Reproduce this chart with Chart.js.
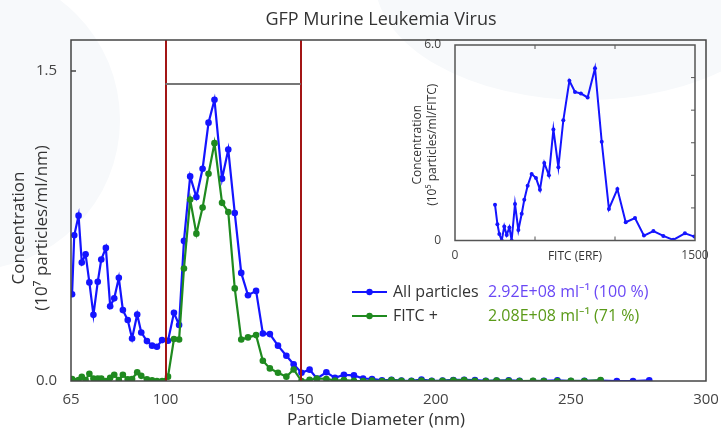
<!DOCTYPE html>
<html>
<head>
<meta charset="utf-8">
<script src="https://cdn.jsdelivr.net/npm/chart.js@4.4.1/dist/chart.umd.min.js"></script>
<style>
  html, body { margin: 0; padding: 0; background: #ffffff; }
  #wrap { position: relative; width: 721px; height: 432px; overflow: hidden; }
  #main { position: absolute; left: 0; top: 0; }
  #inset { position: absolute; left: 395px; top: 30px; }
</style>
</head>
<body>
<div id="wrap">
  <canvas id="main" width="721" height="432"></canvas>
  <canvas id="inset" width="320" height="240"></canvas>
</div>
<script>
// particle size bins (nm)
const sizeNm = [65.4, 66.2, 67.8, 69.0, 70.4, 71.8, 73.3, 74.9, 76.2, 77.9, 79.5, 81.0, 82.7, 84.2, 86.0, 87.6,
    89.5, 91.0, 93.1, 95.0, 96.8, 98.7, 100.9, 103.1, 105.0, 106.8, 109.1, 111.4, 113.7, 115.9, 118.1, 120.9,
    123.2, 125.6, 128.0, 130.5, 133.5, 136.0, 138.6, 141.6, 144.7, 147.4, 150.3, 153.3, 156.0, 159.5, 162.7,
    166.0, 169.7, 173.1, 176.4, 180.1, 183.6, 187.3, 191.0, 194.7, 198.5, 202.5, 206.5, 210.5, 214.5, 218.5,
    222.5, 227, 231, 236, 240, 245, 250, 255, 261, 267, 273, 279];

// concentration, 10^7 particles/ml/nm
const allParticles = [0.42, 0.705, 0.80, 0.573, 0.613, 0.477, 0.32, 0.48, 0.588, 0.644, 0.362, 0.40, 0.499, 0.343,
    0.295, 0.206, 0.322, 0.235, 0.193, 0.171, 0.166, 0.198, 0.195, 0.33, 0.271, 0.678, 0.99, 0.89, 1.027, 1.25,
    1.361, 0.979, 1.12, 0.813, 0.523, 0.415, 0.436, 0.23, 0.227, 0.171, 0.122, 0.081, 0.04, 0.055, 0.012, 0.042,
    0.015, 0.03, 0.027, 0.012, 0.01, 0.003, 0.006, 0.002, 0.001, 0.007, 0.001, 0.002, 0.005, 0.006, 0.004, 0.001,
    0.002, 0.003, 0.001, 0.0, 0.001, 0.003, 0.0, 0.001, 0.002, 0.0, 0.0, 0.003];

const fitcPositive = [0.01, 0.0, 0.005, 0.02, 0.005, 0.035, 0.012, 0.012, 0.012, 0.0, 0.015, 0.03, 0.005, 0.03,
    0.008, 0.01, 0.042, 0.025, 0.008, 0.003, 0.0, 0.0, 0.021, 0.203, 0.201, 0.544, 0.878, 0.713, 0.839, 1.003,
    1.151, 0.862, 0.818, 0.448, 0.201, 0.211, 0.222, 0.098, 0.061, 0.04, 0.021, 0.056, 0.0, 0.006, 0.012, 0.01,
    0.002, 0.004, 0.001, 0.0, 0.002, 0.0, 0.004, 0.001, 0.0, 0.002, 0.0, 0.001, 0.003, 0.004, 0.001, 0.0,
    0.002, 0.001, 0.0, 0.001, 0.0, 0.0, 0.001, 0.0, 0.004];

const sizeTicks = [65, 100, 150, 200, 250, 300];
const concTicks = [0, 1.5];
const gateNm = [100, 150];
const gateLevel = 1.435;

// inset: FITC intensity distribution
const fitcErf = [250, 265, 277, 292, 308, 323, 340, 354, 375, 396, 417, 433, 454, 479, 506, 531, 558, 587, 615,
    646, 677, 715, 750, 787, 829, 875, 917, 962, 1015, 1067, 1125, 1181, 1240, 1302, 1364, 1437, 1496];
const fitcConc = [1.10, 0.50, 0.20, 0.0, 0.43, 0.17, 0.40, 0.0, 1.12, 0.32, 0.82, 1.25, 1.68, 2.04, 1.92, 1.56,
    2.38, 2.00, 3.41, 2.25, 3.69, 4.90, 4.56, 4.51, 4.39, 5.29, 3.03, 0.97, 1.58, 0.56, 0.69, 0.15, 0.29, 0.14,
    0.02, 0.22, 0.12];

const legendLabels = ['All particles', 'FITC +'];
const legendStats = ['2.92E+08 ml\u207B\u00B9 (100 %)', '2.08E+08 ml\u207B\u00B9 (71 %)'];

const BLUE = '#1414ff';
const GREEN = '#1f8a1f';
const FONT = "'Open Sans', 'Noto Sans', sans-serif";

function pairs(xs, ys) {
    return ys.map((y, i) => ({ x: xs[i], y: y }));
}

const mainDecor = {
    id: 'mainDecor',
    beforeDraw(chart) {
        const ctx = chart.ctx;
        ctx.save();
        ctx.fillStyle = '#ffffff';
        ctx.fillRect(0, 0, chart.width, chart.height);
        // faint watermark shapes
        ctx.fillStyle = '#f7f9fb';
        ctx.beginPath();
        ctx.arc(-30, 120, 150, 0, Math.PI * 2);
        ctx.fill();
        ctx.beginPath();
        ctx.ellipse(585, -20, 210, 120, 0, 0, Math.PI * 2);
        ctx.fill();
        ctx.restore();
    },
    afterDatasetsDraw(chart) {
        const ctx = chart.ctx;
        const a = chart.chartArea;
        const x = chart.scales.x, y = chart.scales.y;
        ctx.save();
        // gate lines
        ctx.strokeStyle = '#a31515';
        ctx.lineWidth = 2;
        gateNm.forEach(v => {
            const px = Math.round(x.getPixelForValue(v));
            ctx.beginPath();
            ctx.moveTo(px, a.top);
            ctx.lineTo(px, a.bottom);
            ctx.stroke();
        });
        ctx.strokeStyle = '#777777';
        const gy = Math.round(y.getPixelForValue(gateLevel));
        ctx.beginPath();
        ctx.moveTo(x.getPixelForValue(gateNm[0]), gy);
        ctx.lineTo(x.getPixelForValue(gateNm[1]), gy);
        ctx.stroke();

        // frame
        ctx.strokeStyle = '#444444';
        ctx.lineWidth = 1.5;
        ctx.strokeRect(a.left, a.top, a.right - a.left, a.bottom - a.top);
        // inner y tick
        const ty = y.getPixelForValue(1.5);
        ctx.beginPath();
        ctx.moveTo(a.left, ty);
        ctx.lineTo(a.left + 5, ty);
        ctx.stroke();

        // titles
        ctx.fillStyle = '#333333';
        ctx.textAlign = 'center';
        ctx.textBaseline = 'middle';
        ctx.font = '18px ' + FONT;
        ctx.fillText('GFP Murine Leukemia Virus', 381, 20);
        ctx.font = '17px ' + FONT;
        ctx.fillText('Particle Diameter (nm)', 376, 420);
        ctx.save();
        ctx.translate(19, 228);
        ctx.rotate(-Math.PI / 2);
        ctx.fillText('Concentration', 0, 0);
        ctx.fillText('(10\u2077 particles/ml/nm)', 0, 23);
        ctx.restore();

        // legend
        const rows = [[BLUE, 292], [GREEN, 316]];
        ctx.font = '16px ' + FONT;
        ctx.textAlign = 'left';
        rows.forEach((r, i) => {
            ctx.strokeStyle = r[0];
            ctx.fillStyle = r[0];
            ctx.lineWidth = 2.2;
            ctx.beginPath();
            ctx.moveTo(352, r[1]);
            ctx.lineTo(387, r[1]);
            ctx.stroke();
            ctx.beginPath();
            ctx.arc(369.5, r[1], 3.2, 0, Math.PI * 2);
            ctx.fill();
            ctx.fillStyle = '#333333';
            ctx.fillText(legendLabels[i], 393, r[1]);
        });
        ctx.fillStyle = '#6a48f5';
        ctx.fillText(legendStats[0], 488, 292);
        ctx.fillStyle = '#5a9a18';
        ctx.fillText(legendStats[1], 488, 316);
        ctx.restore();
    }
};

new Chart(document.getElementById('main'), {
    type: 'scatter',
    data: {
        datasets: [
            {
                label: legendLabels[1],
                data: pairs(sizeNm, fitcPositive),
                showLine: true,
                borderColor: GREEN,
                backgroundColor: GREEN,
                borderWidth: 2.2,
                pointRadius: 3.3,
                pointBorderWidth: 0
            },
            {
                label: legendLabels[0],
                data: pairs(sizeNm, allParticles),
                showLine: true,
                borderColor: BLUE,
                backgroundColor: BLUE,
                borderWidth: 2.2,
                pointRadius: 3.3,
                pointBorderWidth: 0
            }
        ]
    },
    options: {
        responsive: false,
        animation: false,
        layout: { padding: { left: 0, right: 15, top: 40, bottom: 0 } },
        plugins: { legend: { display: false }, tooltip: { enabled: false } },
        scales: {
            x: {
                type: 'linear',
                min: 65,
                max: 300,
                afterFit: s => { s.height = 51; },
                afterBuildTicks: s => { s.ticks = sizeTicks.map(v => ({ value: v })); },
                grid: { display: false },
                border: { display: false },
                ticks: { color: '#444444', font: { size: 15, family: FONT }, padding: 2, maxRotation: 0 }
            },
            y: {
                min: 0,
                max: 1.65,
                afterFit: s => { s.width = 71; },
                afterBuildTicks: s => { s.ticks = concTicks.map(v => ({ value: v })); },
                grid: { display: false },
                border: { display: false },
                ticks: {
                    color: '#444444',
                    font: { size: 15, family: FONT },
                    padding: 6,
                    callback: v => v.toFixed(1)
                }
            }
        }
    },
    plugins: [mainDecor]
});

const insetDecor = {
    id: 'insetDecor',
    afterDatasetsDraw(chart) {
        const ctx = chart.ctx;
        const a = chart.chartArea;
        const x = chart.scales.x, y = chart.scales.y;
        ctx.save();
        ctx.strokeStyle = '#555555';
        ctx.lineWidth = 1.5;
        ctx.strokeRect(a.left, a.top, a.right - a.left, a.bottom - a.top);
        ctx.lineWidth = 1;
        [1, 2, 3, 4, 5].forEach(v => {
            const py = y.getPixelForValue(v);
            ctx.beginPath();
            ctx.moveTo(a.right, py);
            ctx.lineTo(a.right - 4, py);
            ctx.stroke();
        });
        [500, 1000].forEach(v => {
            const px = x.getPixelForValue(v);
            ctx.beginPath();
            ctx.moveTo(px, a.top);
            ctx.lineTo(px, a.top + 4);
            ctx.moveTo(px, a.bottom);
            ctx.lineTo(px, a.bottom - 4);
            ctx.stroke();
        });
        ctx.fillStyle = '#333333';
        ctx.font = '12px ' + FONT;
        ctx.textAlign = 'center';
        ctx.textBaseline = 'middle';
        ctx.fillText('FITC (ERF)', (a.left + a.right) / 2, a.bottom + 16);
        ctx.save();
        ctx.translate(a.left - 37, (a.top + a.bottom) / 2 + 2);
        ctx.rotate(-Math.PI / 2);
        ctx.fillText('Concentration', 0, 0);
        ctx.fillText('(10\u2075 particles/ml/FITC)', 0, 15);
        ctx.restore();
        ctx.restore();
    }
};

new Chart(document.getElementById('inset'), {
    type: 'scatter',
    data: {
        datasets: [{
            data: pairs(fitcErf, fitcConc),
            showLine: true,
            borderColor: BLUE,
            backgroundColor: BLUE,
            borderWidth: 2,
            pointRadius: 2,
            pointBorderWidth: 0
        }]
    },
    options: {
        responsive: false,
        animation: false,
        layout: { padding: { left: 0, right: 20, top: 15, bottom: 0 } },
        plugins: { legend: { display: false }, tooltip: { enabled: false } },
        scales: {
            x: {
                type: 'linear',
                min: 0,
                max: 1500,
                afterFit: s => { s.height = 29.5; },
                afterBuildTicks: s => { s.ticks = [{ value: 0 }, { value: 1500 }]; },
                grid: { display: false },
                border: { display: false },
                ticks: {
                    color: '#444444',
                    font: { size: 12, family: FONT },
                    padding: 0,
                    maxRotation: 0,
                    callback: v => String(v)
                }
            },
            y: {
                min: 0,
                max: 6,
                afterFit: s => { s.width = 60; },
                afterBuildTicks: s => { s.ticks = [{ value: 0 }, { value: 6 }]; },
                grid: { display: false },
                border: { display: false },
                ticks: {
                    color: '#444444',
                    font: { size: 12, family: FONT },
                    padding: 6,
                    callback: v => (v === 0 ? '0' : v.toFixed(1))
                }
            }
        }
    },
    plugins: [insetDecor]
});
</script>
</body>
</html>
